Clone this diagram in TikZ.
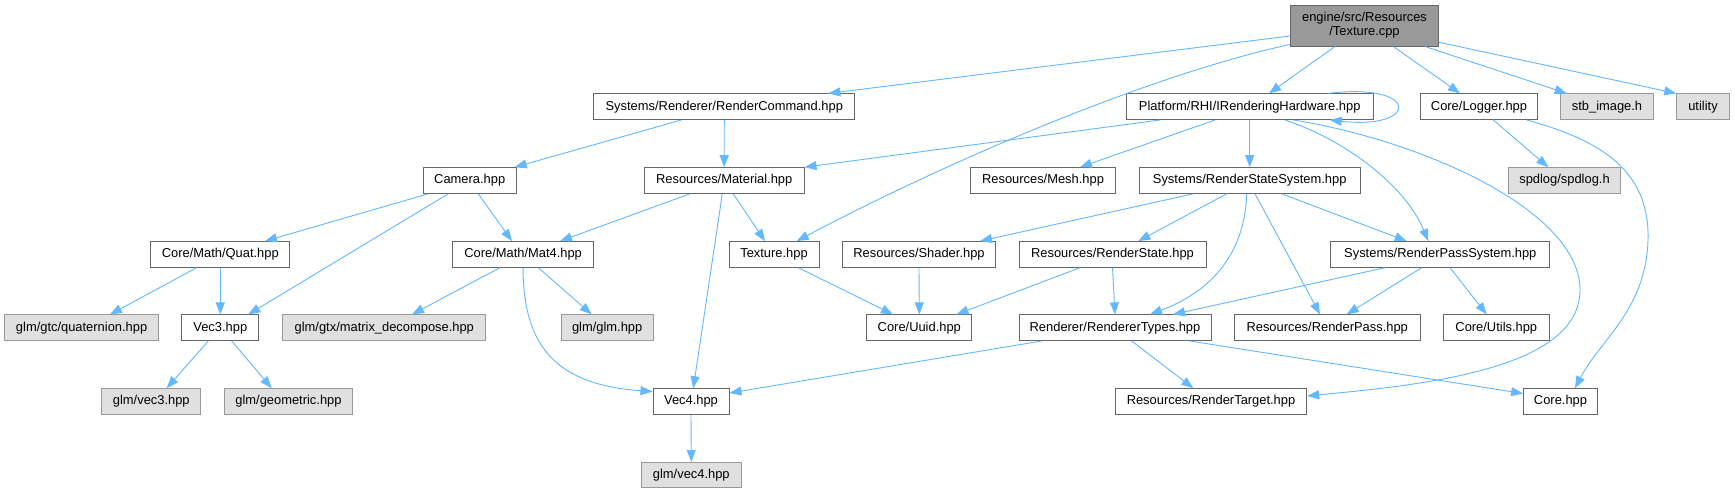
\documentclass[tikz,border=0pt]{standalone}
\usepackage{fontspec}
\setmainfont{Liberation Sans}
\usetikzlibrary{arrows.meta,calc}
\definecolor{edgeblue}{HTML}{63B8FF}
\definecolor{boxborder}{HTML}{666666}
\definecolor{gborder}{HTML}{999999}
\definecolor{gfill}{HTML}{E0E0E0}
\definecolor{tfill}{HTML}{999999}
\newcommand\nodefont{\fontsize{12.9}{14.3}\selectfont}
\begin{document}
\begin{tikzpicture}[x=1pt,y=-1pt,
  box/.style={draw=boxborder, fill=white, line width=1pt, inner sep=0pt, minimum height=25.6pt, font=\nodefont, text=black},
  gbox/.style={box, draw=gborder, fill=gfill},
  tbox/.style={box, fill=tfill},
  edge/.style={draw=edgeblue, line width=0.9pt, -{Triangle[length=12pt,width=9pt]}}]
\fill[white] (0,0) rectangle (1735,493);
\useasboundingbox (0,0) rectangle (1735,493);
% row 0
\node[tbox, minimum width=148.4pt, minimum height=41pt, align=center] (T) at (1364.5,25.5) {engine/src/Resources\\/Texture.cpp};
% row 1
\node[box, minimum width=261.3pt] (RC) at (724.3,106.7) {Systems/Renderer/RenderCommand.hpp};
\node[box, minimum width=246.7pt] (IRH) at (1249.7,106.7) {Platform/RHI/IRenderingHardware.hpp};
\node[box, minimum width=116.6pt] (LOG) at (1479,106.7) {Core/Logger.hpp};
\node[gbox, minimum width=92.6pt] (STB) at (1607,106.7) {stb\_image.h};
\node[gbox, minimum width=52.6pt] (UTL) at (1703,106.7) {utility};
% row 2
\node[box, minimum width=92.7pt] (CAM) at (469.7,180.5) {Camera.hpp};
\node[box, minimum width=159.7pt] (MAT) at (724.2,180.5) {Resources/Material.hpp};
\node[box, minimum width=145.4pt] (MESH) at (1043,180.5) {Resources/Mesh.hpp};
\node[box, minimum width=220.7pt] (RSS) at (1249.7,180.5) {Systems/RenderStateSystem.hpp};
\node[gbox, minimum width=112.4pt] (SPD) at (1564.5,180.5) {spdlog/spdlog.h};
% row 3
\node[box, minimum width=139.3pt] (QUAT) at (220.3,254.4) {Core/Math/Quat.hpp};
\node[box, minimum width=140.8pt] (MAT4) at (523.1,254.4) {Core/Math/Mat4.hpp};
\node[box, minimum width=90pt] (TEXH) at (774,254.4) {Texture.hpp};
\node[box, minimum width=153.4pt] (SHD) at (919,254.4) {Resources/Shader.hpp};
\node[box, minimum width=187pt] (RST) at (1112.5,254.4) {Resources/RenderState.hpp};
\node[box, minimum width=219.3pt] (RPS) at (1440.3,254.4) {Systems/RenderPassSystem.hpp};
% row 4
\node[gbox, minimum width=153.8pt] (QUATG) at (81.6,327.7) {glm/gtc/quaternion.hpp};
\node[box, minimum width=76.7pt] (VEC3) at (220.3,327.7) {Vec3.hpp};
\node[gbox, minimum width=203.3pt] (MDEC) at (384.3,327.7) {glm/gtx/matrix\_decompose.hpp};
\node[gbox, minimum width=92.3pt] (GLM) at (607.2,327.7) {glm/glm.hpp};
\node[box, minimum width=105.3pt] (UUID) at (919.3,327.7) {Core/Uuid.hpp};
\node[box, minimum width=192pt] (RTY) at (1115,327.7) {Renderer/RendererTypes.hpp};
\node[box, minimum width=185.7pt] (RPA) at (1327.2,327.7) {Resources/RenderPass.hpp};
\node[box, minimum width=105.6pt] (UTILS) at (1496.3,327.7) {Core/Utils.hpp};
% row 5
\node[gbox, minimum width=99.3pt] (GV3) at (151.3,401.5) {glm/vec3.hpp};
\node[gbox, minimum width=128.4pt] (GEO) at (288.5,401.5) {glm/geometric.hpp};
\node[box, minimum width=76pt] (VEC4) at (691,401.5) {Vec4.hpp};
\node[box, minimum width=191.4pt] (RTG) at (1211,401.5) {Resources/RenderTarget.hpp};
\node[box, minimum width=73.8pt] (CORE) at (1560.5,401.5) {Core.hpp};
% row 6
\node[gbox, minimum width=99.9pt] (GV4) at (691.3,475.1) {glm/vec4.hpp};

% edges from Texture.cpp
\draw[edge] ($(T.west)+(0,10.5)$) -- ($(RC.north)+(104,0)$);
\draw[edge] ($(T.south west)+(0,-2)$) .. controls (1150,75) and (950,160) .. ($(TEXH.north)+(22.7,0)$);
\draw[edge] ($(T.south)+(-29.5,0)$) -- ($(IRH.north)+(19.3,0)$);
\draw[edge] ($(T.south)+(28.8,0)$) -- ($(LOG.north)+(-19,0)$);
\draw[edge] ($(T.south)+(60.5,0)$) -- ($(STB.north)+(-40.3,0)$);
\draw[edge] ($(T.east)+(0,16.8)$) -- (UTL.north west);
% RenderCommand
\draw[edge] ($(RC.south)+(-43,0)$) -- ($(CAM.north)+(45,0)$);
\draw[edge] (RC.south) -- (MAT.north);
% IRenderingHardware
\draw[edge] ($(IRH.north)+(78.6,0)$) .. controls (1420,82) and (1420,130) .. ($(IRH.south)+(80,0)$);
\draw[edge] ($(IRH.south)+(-89.7,0)$) -- (MAT.north east);
\draw[edge] ($(IRH.south)+(-34.7,0)$) -- ($(MESH.north)+(37,0)$);
\draw[edge] (IRH.south) -- (RSS.north);
\draw[edge] ($(IRH.south)+(35.3,0)$) .. controls (1345,140) and (1405,185) .. ($(RPS.north)+(-12,0)$);
\draw[edge] ($(IRH.south)+(43.6,0)$) .. controls (1420,140) and (1580,210) .. (1580,290) .. controls (1580,370) and (1420,385) .. ($(RTG.east)+(0,-5.5)$);
% Logger
\draw[edge] ($(LOG.south)+(14.3,0)$) -- ($(SPD.north)+(-16.2,0)$);
\draw[edge] ($(LOG.south)+(47.7,0)$) .. controls (1600,140) and (1650,170) .. (1648,240) .. controls (1646,310) and (1600,340) .. ($(CORE.north)+(14.5,0)$);
% Camera
\draw[edge] ($(CAM.south)+(-41.4,0)$) -- ($(QUAT.north)+(44.7,0)$);
\draw[edge] ($(CAM.south)+(-21.4,0)$) -- ($(VEC3.north)+(28,0)$);
\draw[edge] ($(CAM.south)+(8.6,0)$) -- ($(MAT4.north)+(-11.1,0)$);
% Material
\draw[edge] ($(MAT.south)+(-34.2,0)$) -- ($(MAT4.north)+(36.9,0)$);
\draw[edge] ($(MAT.south)+(-1.9,0)$) -- ($(VEC4.north)+(2.3,0)$);
\draw[edge] ($(MAT.south)+(9.1,0)$) -- ($(TEXH.north)+(-9,0)$);
% RenderStateSystem
\draw[edge] ($(RSS.south)+(-56.4,0)$) -- ($(SHD.north)+(61,0)$);
\draw[edge] ($(RSS.south)+(-23,0)$) -- ($(RST.north)+(25.8,0)$);
\draw[edge] ($(RSS.south)+(-3,0)$) .. controls (1245,250) and (1215,290) .. ($(RTY.north)+(35,0)$);
\draw[edge] ($(RSS.south)+(5.3,0)$) -- ($(RPA.north)+(-7.2,0)$);
\draw[edge] ($(RSS.south)+(32,0)$) -- ($(RPS.north)+(-33.6,0)$);
% Quat
\draw[edge] ($(QUAT.south)+(-23.6,0)$) -- ($(QUATG.north)+(28.4,0)$);
\draw[edge] (QUAT.south) -- (VEC3.north);
% Mat4
\draw[edge] ($(MAT4.south)+(-23.1,0)$) -- ($(MDEC.north)+(27.7,0)$);
\draw[edge] ($(MAT4.south)+(15.2,0)$) -- ($(GLM.north)+(-15.5,0)$);
\draw[edge] (MAT4.south) .. controls (523,350) and (560,385) .. ($(VEC4.west)+(0,-10)$);
% Texture.hpp, Shader, RenderState
\draw[edge] ($(TEXH.south)+(24.3,0)$) -- ($(UUID.north)+(-26.3,0)$);
\draw[edge] (SHD.south) -- (UUID.north);
\draw[edge] ($(RST.south)+(-32.5,0)$) -- ($(UUID.north)+(37.2,0)$);
\draw[edge] (RST.south) -- (RTY.north);
% RenderPassSystem
\draw[edge] ($(RPS.south)+(-55.3,0)$) -- ($(RTY.north)+(58,0)$);
\draw[edge] ($(RPS.south)+(-18.6,0)$) -- ($(RPA.north)+(19.5,0)$);
\draw[edge] ($(RPS.south)+(9.7,0)$) -- ($(UTILS.north)+(-9.6,0)$);
% Vec3
\draw[edge] ($(VEC3.south)+(-12,0)$) -- ($(GV3.north)+(15.4,0)$);
\draw[edge] ($(VEC3.south)+(11.4,0)$) -- ($(GEO.north)+(-16.8,0)$);
% RendererTypes
\draw[edge] ($(RTY.south)+(-73.3,0)$) -- ($(VEC4.east)+(0,-8.5)$);
\draw[edge] ($(RTY.south)+(16.7,0)$) -- ($(RTG.north)+(-17.7,0)$);
\draw[edge] ($(RTY.south)+(75,0)$) -- ($(CORE.west)+(0,-8)$);
% Vec4
\draw[edge] (VEC4.south) -- (GV4.north);
\end{tikzpicture}
\end{document}
